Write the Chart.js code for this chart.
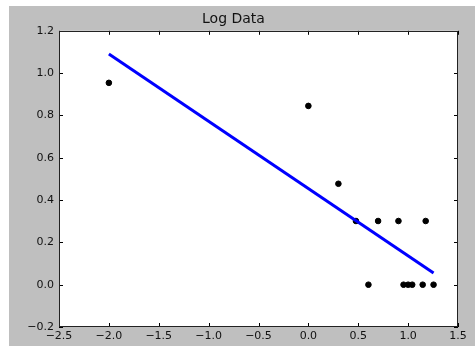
<!DOCTYPE html>
<html>
<head>
<meta charset="utf-8">
<script src="https://cdn.jsdelivr.net/npm/chart.js@4/dist/chart.umd.min.js"></script>
<style>
  html, body { margin: 0; padding: 0; background: #fff; }
  #wrap { position: absolute; left: 9px; top: 6px; width: 466px; height: 340px; background: #bfbfbf; }
</style>
</head>
<body>
<div id="wrap"><canvas id="chart"></canvas></div>
<script>
const pointX = [-2.0, 0.0, 0.301, 0.477, 0.699, 0.903, 1.176, 0.602, 0.954, 1.0, 1.041, 1.146, 1.255];
const pointY = [0.954, 0.845, 0.477, 0.301, 0.301, 0.301, 0.301, 0.0, 0.0, 0.0, 0.0, 0.0, 0.0];

// fitted line ends
const fitX = [-2.0, 1.255];
const fitY = [1.09, 0.055];

const xTicks = [-2.5, -2.0, -1.5, -1.0, -0.5, 0.0, 0.5, 1.0, 1.5];
const yTicks = [-0.2, 0.0, 0.2, 0.4, 0.6, 0.8, 1.0, 1.2];

const fmt = v => v.toFixed(1).replace('-', '\u2212');

// white plot area, black frame, inward ticks on all four sides
const framePlugin = {
    id: 'frame',
    beforeDraw(chart) {
        const { ctx, chartArea: a } = chart;
        ctx.save();
        ctx.fillStyle = '#fff';
        ctx.fillRect(a.left, a.top, a.right - a.left, a.bottom - a.top);
        ctx.restore();
    },
    afterDraw(chart) {
        const { ctx, chartArea: a, scales } = chart;
        ctx.save();
        ctx.strokeStyle = '#000';
        ctx.lineWidth = 1;
        ctx.beginPath();
        xTicks.forEach(v => {
            const px = Math.round(scales.x.getPixelForValue(v)) + 0.5;
            ctx.moveTo(px, a.bottom); ctx.lineTo(px, a.bottom - 4);
            ctx.moveTo(px, a.top); ctx.lineTo(px, a.top + 4);
        });
        yTicks.forEach(v => {
            const py = Math.round(scales.y.getPixelForValue(v)) + 0.5;
            ctx.moveTo(a.left, py); ctx.lineTo(a.left + 4, py);
            ctx.moveTo(a.right, py); ctx.lineTo(a.right - 4, py);
        });
        ctx.stroke();
        ctx.strokeStyle = '#222';
        ctx.strokeRect(Math.round(a.left) + 0.5, Math.round(a.top) + 0.5,
            Math.round(a.right - a.left) - 1, Math.round(a.bottom - a.top) - 1);
        ctx.restore();
    }
};

new Chart(document.getElementById('chart'), {
    type: 'scatter',
    data: {
        datasets: [
            {
                label: 'fit',
                type: 'line',
                data: fitX.map((x, i) => ({ x: x, y: fitY[i] })),
                borderColor: '#0000ff',
                borderWidth: 3,
                pointRadius: 0,
                fill: false
            },
            {
                label: 'data',
                data: pointX.map((x, i) => ({ x: x, y: pointY[i] })),
                backgroundColor: '#000',
                borderColor: '#000',
                pointRadius: 2.8
            }
        ]
    },
    options: {
        responsive: true,
        maintainAspectRatio: false,
        animation: false,
        layout: { padding: { left: 0, right: 17, top: 0, bottom: 0 } },
        plugins: {
            legend: { display: false },
            tooltip: { enabled: false },
            title: {
                display: true,
                text: 'Log Data',
                color: '#111',
                font: { family: 'DejaVu Sans', size: 14, weight: 'normal' },
                padding: { top: 5, bottom: 3 }
            }
        },
        scales: {
            x: {
                type: 'linear',
                min: -2.5,
                max: 1.5,
                afterBuildTicks: s => { s.ticks = xTicks.map(v => ({ value: v })); },
                afterFit: s => { s.height = 19; },
                grid: { display: false, drawTicks: false },
                border: { display: false },
                ticks: {
                    color: '#111',
                    padding: 3,
                    maxRotation: 0,
                    autoSkip: false,
                    font: { family: 'DejaVu Sans', size: 11 },
                    callback: v => fmt(v)
                }
            },
            y: {
                type: 'linear',
                min: -0.2,
                max: 1.2,
                afterBuildTicks: s => { s.ticks = yTicks.map(v => ({ value: v })); },
                afterFit: s => { s.width = 50; },
                grid: { display: false, drawTicks: false },
                border: { display: false },
                ticks: {
                    color: '#111',
                    padding: 5,
                    autoSkip: false,
                    font: { family: 'DejaVu Sans', size: 11 },
                    callback: v => fmt(v)
                }
            }
        }
    },
    plugins: [framePlugin]
});
</script>
</body>
</html>
